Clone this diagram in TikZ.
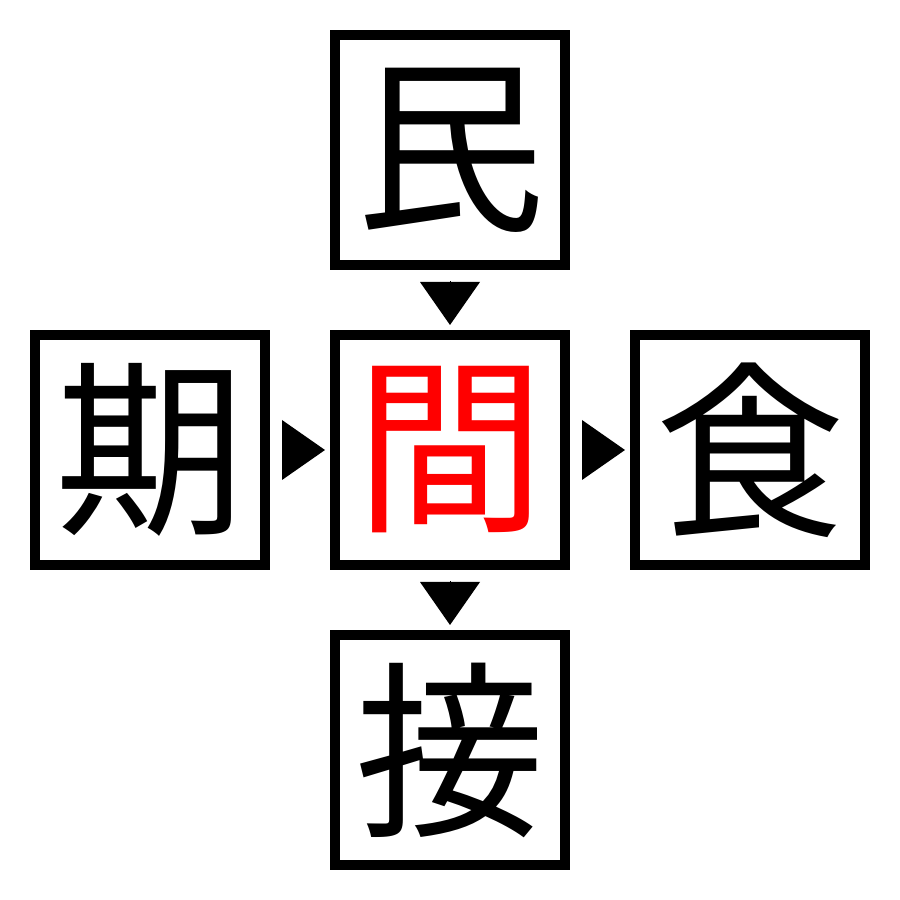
\documentclass[tikz,border=0pt]{standalone}
\usepackage{fontspec}
\newfontfamily\jpfont{Noto Sans CJK JP}
\usetikzlibrary{positioning,arrows.meta}
\tikzset{
  kanji/.style={rectangle,draw,line width=0.2cm,minimum size=4.6cm,inner sep=0pt,
    font=\jpfont\fontsize{108pt}{108pt}\selectfont},
  pointer/.style={line width=0pt,-{Triangle[length=0.86cm,width=1.2cm]}}
}
\begin{document}
\begin{tikzpicture}
  \useasboundingbox (0,0) rectangle (18,18);
  % Boxes
  \node[kanji,text=red] (C) at (9,9) {間};
  \node[kanji,above=1.2cm of C] (T) {民};
  \node[kanji,left=1.2cm of C] (L) {期};
  \node[kanji,right=1.2cm of C] (R) {食};
  \node[kanji,below=1.2cm of C] (B) {接};
  % Pointers
  \draw[pointer] ([yshift=-0.24cm]T.south) -- ([yshift=0.1cm]C.north);
  \draw[pointer] ([xshift=0.24cm]L.east) -- ([xshift=-0.1cm]C.west);
  \draw[pointer] ([xshift=0.24cm]C.east) -- ([xshift=-0.1cm]R.west);
  \draw[pointer] ([yshift=-0.24cm]C.south) -- ([yshift=0.1cm]B.north);
\end{tikzpicture}
\end{document}
